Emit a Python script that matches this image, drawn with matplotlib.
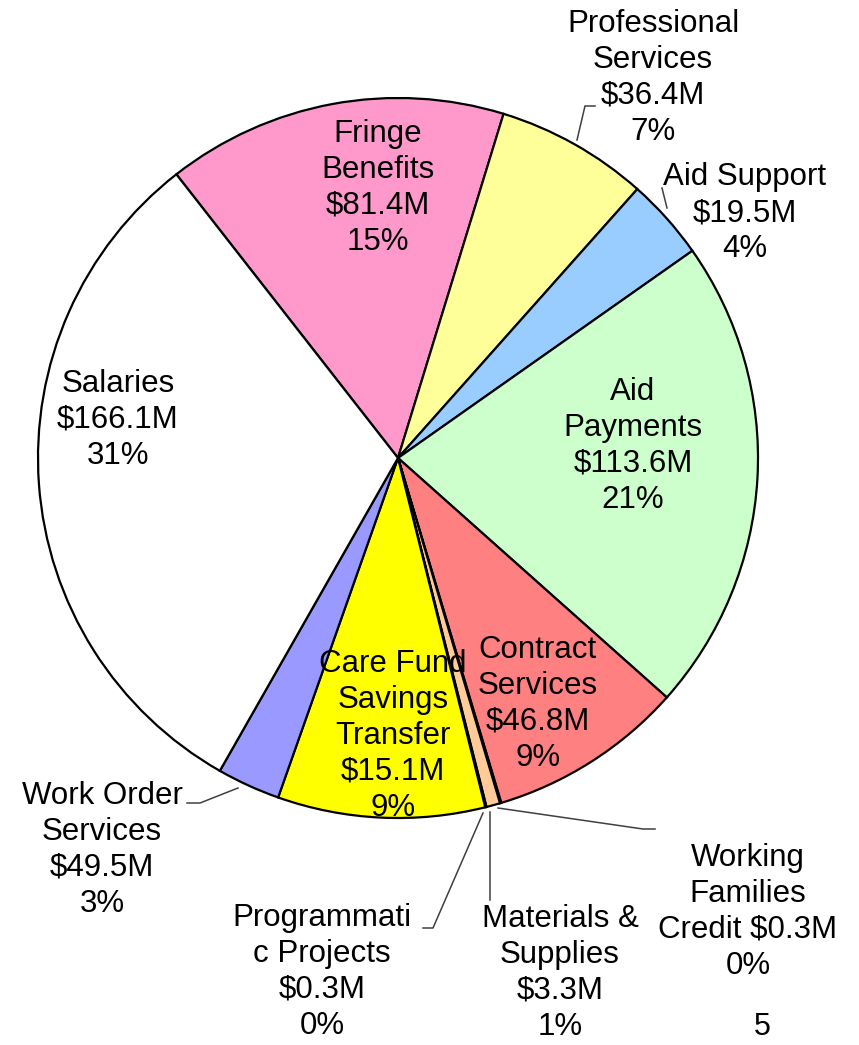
import matplotlib
matplotlib.use("Agg")
import matplotlib.pyplot as plt

plt.rcParams['font.family'] = ['Liberation Sans', 'DejaVu Sans']

# slice sizes (clockwise from the Fringe Benefits edge)
values = [81.4, 36.4, 19.5, 113.6, 46.8, 0.3, 3.3, 0.3, 49.5, 15.1, 166.1]
colors = ['#FF99CC', '#FFFF99', '#99CCFF', '#CCFFCC', '#FF8080', '#993366',
          '#FFCC99', '#CCCCFF', '#FFFF00', '#9999FF', '#FFFFFF']

# labels as printed on the slide
labels = [
    "Fringe\nBenefits\n$81.4M\n15%",
    "Professional\nServices\n$36.4M\n7%",
    "Aid Support\n$19.5M\n4%",
    "Aid\nPayments\n$113.6M\n21%",
    "Contract\nServices\n$46.8M\n9%",
    "Working\nFamilies\nCredit $0.3M\n0%",
    "Materials &\nSupplies\n$3.3M\n1%",
    "Programmati\nc Projects\n$0.3M\n0%",
    "Care Fund\nSavings\nTransfer\n$15.1M\n9%",
    "Work Order\nServices\n$49.5M\n3%",
    "Salaries\n$166.1M\n31%",
]

W, H = 859, 1045
# label centres, in picture pixels (x, y from top)
label_pos = [(378, 188), (653, 78), (745, 213), (633, 446), (538, 704),
             (748, 912), (560, 973), (322, 972), (393, 736), (102, 850),
             (118, 420)]

# leader lines, in picture pixels
leaders = [
    [(577, 140), (585, 106), (595, 106)],
    [(667, 208), (662, 188)],
    [(238, 788), (200, 803), (187, 803)],
    [(483, 813), (433, 928), (423, 928)],
    [(490, 812), (490, 900)],
    [(498, 808), (643, 829), (655, 829)],
]

fig = plt.figure(figsize=(W / 100, H / 100), dpi=100)
ax = fig.add_axes([0, 0, 1, 1])

ax.pie(values, colors=colors, startangle=128, counterclock=False,
       center=(398, H - 458), radius=360, frame=True,
       wedgeprops=dict(edgecolor='black', linewidth=1.6))
ax.set_xlim(0, W)
ax.set_ylim(0, H)
ax.set_aspect('equal')
ax.axis('off')

for pts in leaders:
    xs = [p[0] for p in pts]
    ys = [H - p[1] for p in pts]
    ax.plot(xs, ys, color='#404040', lw=1.1)

for txt, (x, y) in zip(labels, label_pos):
    ax.text(x, H - y, txt, ha='center', va='center', fontsize=22.5,
            linespacing=1.25, color='black')

ax.text(762, H - 1042, "5", ha='center', va='bottom', fontsize=22)

fig.savefig("out.png", dpi=100)
